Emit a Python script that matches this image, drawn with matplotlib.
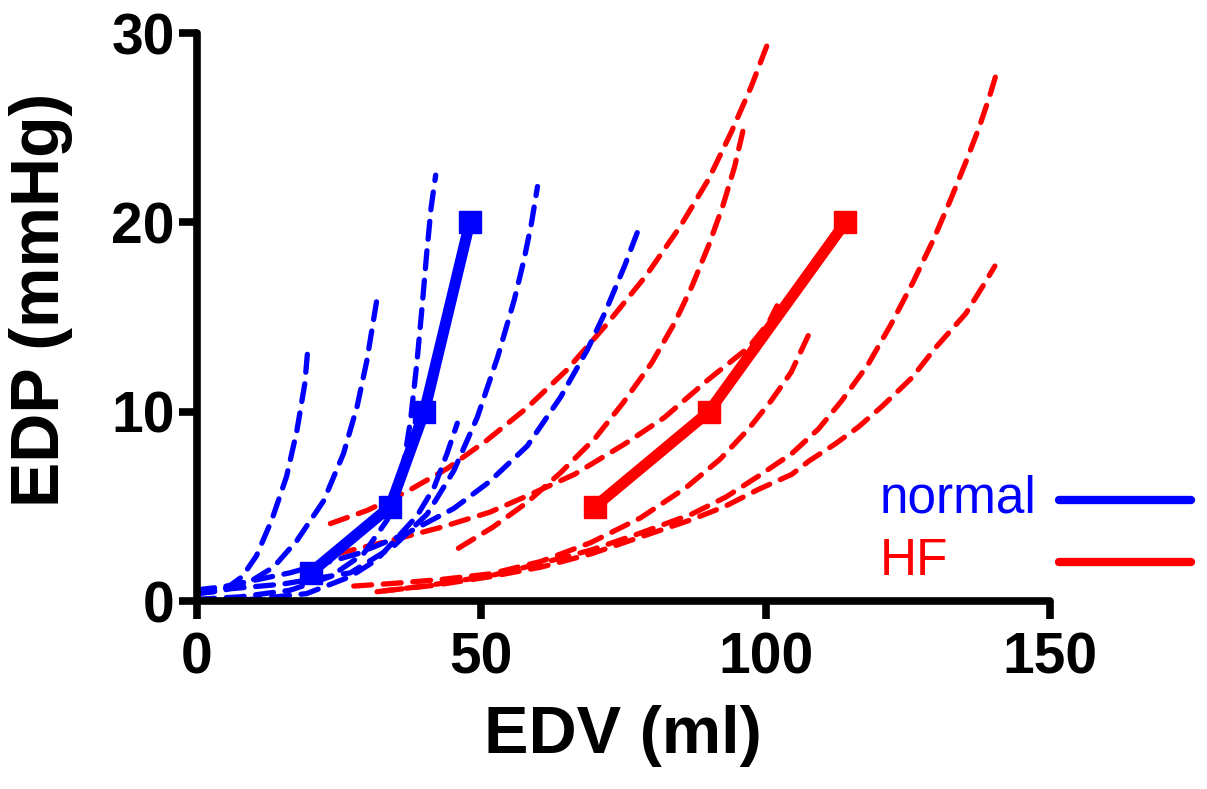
import matplotlib.pyplot as plt
from matplotlib.lines import Line2D

plt.rcParams['font.family'] = ['Liberation Sans', 'DejaVu Sans']

# mean EDPVR points
normal_edv = [20, 34, 40, 48]
normal_edp = [1.5, 5, 10, 20]
hf_edv = [70, 90, 114]
hf_edp = [5, 10, 20]

# individual normal curves (dashed, blue)
n1_edv = [0, 3, 5.5, 8, 10.5, 13.2, 15.8, 17.6, 19.0, 19.6]
n1_edp = [0.4, 0.5, 0.75, 1.3, 2.4, 4.3, 6.6, 9.0, 11.5, 13.6]
n2_edv = [0, 5, 8.8, 13.5, 17.6, 22.3, 25.8, 28.2, 29.9, 31.7]
n2_edp = [0.4, 0.6, 0.93, 1.8, 3.2, 5.3, 7.8, 10.3, 12.7, 16.0]
n3_edv = [0, 7.6, 16.4, 23.5, 29.3, 33.5, 36.4, 37.6, 38.7, 39.6, 40.4, 41.2, 42.0]
n3_edp = [0.1, 0.23, 0.58, 1.3, 2.5, 4.3, 7.3, 9.6, 12.6, 15.5, 18.3, 20.8, 22.5]
n4_edv = [0, 15, 27.0, 34.6, 40.5, 45.2, 49.3, 52.9, 55.8, 57.5, 58.8, 59.9]
n4_edp = [0.5, 0.9, 1.5, 2.9, 4.6, 6.9, 9.7, 12.9, 15.9, 18.0, 19.9, 21.9]
n5_edv = [0, 4.6, 16.4, 28.2, 37, 45.2, 51.4, 58.1, 64.0, 68.7, 71.7, 75.2, 77.6]
n5_edp = [0.6, 0.76, 1.5, 2.5, 3.6, 4.9, 6.3, 8.2, 10.8, 13.3, 15.2, 17.7, 19.6]
n6_edv = [8, 19.3, 27.0, 31.7, 38.7, 41.7, 44.0, 45.8]
n6_edp = [0.05, 0.4, 1.3, 2.2, 4.5, 6.0, 7.8, 9.4]

# individual HF curves (dashed, red)
h1_edv = [23.5, 30, 37, 44, 51, 58, 65, 72, 79, 85, 90, 94, 97.5, 100.3]
h1_edp = [4.1, 4.8, 5.8, 7.0, 8.5, 10.2, 12.2, 14.6, 17.2, 19.8, 22.3, 24.8, 27.2, 29.4]
h2_edv = [46, 52, 58, 64, 70, 75, 80, 84, 87, 90, 92.5, 94.5, 96.3]
h2_edp = [2.8, 3.9, 5.2, 6.8, 8.6, 10.5, 12.6, 14.7, 16.6, 18.8, 20.9, 22.9, 25.2]
h3_edv = [24.6, 34, 42.9, 51.5, 57.6, 66.4, 75.2, 82.2, 89.9, 97, 100.5, 102]
h3_edp = [2.5, 3.2, 3.9, 4.7, 5.5, 6.7, 8.3, 9.7, 11.7, 13.4, 14.7, 15.6]
h4_edv = [27.6, 35, 43, 51.7, 60.5, 69.3, 78, 86, 92, 97, 101, 104.5, 107.6]
h4_edp = [0.8, 0.95, 1.15, 1.45, 2.1, 3.1, 4.4, 6.0, 7.5, 9.1, 10.6, 12.1, 14.1]
h5_edv = [31.7, 40, 51.7, 60.5, 69.3, 78, 87, 93, 98.7, 104.6, 109.3, 113.4, 118,
          122, 126, 129.5, 132.5, 135.2, 137.5, 139.3, 140.5]
h5_edp = [0.5, 0.8, 1.35, 2.0, 2.7, 3.6, 4.6, 5.5, 6.6, 7.8, 9.1, 10.6, 12.5,
          14.6, 16.9, 19.1, 21.2, 23.2, 25.0, 26.6, 27.8]
h6_edv = [33, 42, 51.7, 60.5, 69.3, 78.1, 86.9, 92.8, 98.7, 104.6, 107.6, 112.2,
          116.3, 120.5, 125.7, 129.9, 135.2, 138.1, 140.3]
h6_edp = [0.55, 0.85, 1.3, 1.8, 2.5, 3.4, 4.3, 5.0, 5.9, 6.7, 7.4, 8.3,
          9.2, 10.3, 11.8, 13.4, 15.2, 16.6, 17.7]

normal_curves = [(n1_edv, n1_edp), (n2_edv, n2_edp), (n3_edv, n3_edp),
                 (n4_edv, n4_edp), (n5_edv, n5_edp), (n6_edv, n6_edp)]
hf_curves = [(h1_edv, h1_edp), (h2_edv, h2_edp), (h3_edv, h3_edp),
             (h4_edv, h4_edp), (h5_edv, h5_edp), (h6_edv, h6_edp)]

blue = '#0000ff'
red = '#ff0000'

fig = plt.figure(figsize=(12.07, 7.89), dpi=100)
ax = fig.add_axes([0.163, 0.238, 0.707, 0.72])

for ex, ey in hf_curves:
    ax.plot(ex, ey, color=red, lw=3.8, dashes=(3.4, 2.2), dash_capstyle='round')
for ex, ey in normal_curves:
    ax.plot(ex, ey, color=blue, lw=3.8, dashes=(3.4, 2.2), dash_capstyle='round')

ax.plot(normal_edv, normal_edp, color=blue, lw=8, marker='s', ms=16)
ax.plot(hf_edv, hf_edp, color=red, lw=8, marker='s', ms=16)

ax.set_xlim(0, 150)
ax.set_ylim(0, 30)
ax.set_xticks([0, 50, 100, 150])
ax.set_yticks([0, 10, 20, 30])
for s in ['top', 'right']:
    ax.spines[s].set_visible(False)
for s in ['left', 'bottom']:
    ax.spines[s].set_linewidth(5.5)
    ax.spines[s].set_capstyle('round')
ax.tick_params(width=5.5, length=13, labelsize=41)
ax.tick_params(axis='x', pad=9)
ax.tick_params(axis='y', pad=3)
for lab in ax.get_xticklabels() + ax.get_yticklabels():
    lab.set_fontweight('bold')

ax.set_xlabel('EDV (ml)', fontsize=48, fontweight='bold', labelpad=14)
ax.set_ylabel('EDP (mmHg)', fontsize=49, fontweight='bold')
ax.yaxis.set_label_coords(-0.145, 0.53)

# legend drawn by hand: text on the left, line on the right
fig.text(0.729, 0.350, 'normal', color=blue, fontsize=37, va='baseline')
fig.text(0.729, 0.271, 'HF', color=red, fontsize=37, va='baseline')
fig.add_artist(Line2D([0.877, 0.987], [0.366, 0.366], transform=fig.transFigure,
                      color=blue, lw=6, solid_capstyle='round'))
fig.add_artist(Line2D([0.877, 0.987], [0.288, 0.288], transform=fig.transFigure,
                      color=red, lw=6, solid_capstyle='round'))

fig.savefig('out.png', dpi=100)
